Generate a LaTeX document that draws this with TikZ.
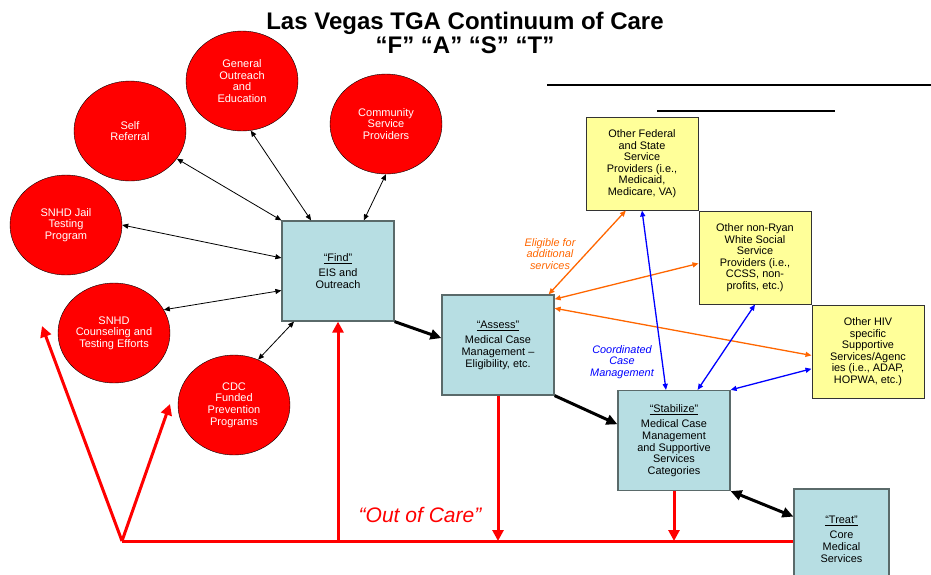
\documentclass[tikz,border=0pt]{standalone}
\usepackage{fontspec}
\setmainfont{Liberation Sans}
\usepackage{tikz}
\usetikzlibrary{shapes.geometric,arrows.meta,positioning,calc}
\definecolor{CareRed}{HTML}{FF0000}
\definecolor{StageBlue}{HTML}{B7DEE3}
\definecolor{StageEdge}{HTML}{5A6A6A}
\definecolor{AgencyYellow}{HTML}{FFFF99}
\definecolor{LinkOrange}{HTML}{FF6600}
\definecolor{LinkBlue}{HTML}{0000FF}
\tikzset{
    % red entry points round the Find step
    entrycircle/.style={
        ellipse,
        draw=black,
        fill=CareRed,
        thin,
        minimum width=112pt,
        minimum height=100pt,
        inner sep=0pt,
        align=center,
        text=white,
        font=\fontsize{11}{11.6}\selectfont
    },
    stagebox/.style={
        rectangle,
        draw=StageEdge,
        fill=StageBlue,
        line width=1.2pt,
        minimum width=112pt,
        minimum height=100pt,
        inner sep=0pt,
        align=center,
        font=\fontsize{10.9}{11.6}\selectfont
    },
    agencybox/.style={
        rectangle,
        draw=black!80,
        fill=AgencyYellow,
        line width=1pt,
        minimum width=112pt,
        minimum height=93pt,
        inner sep=0pt,
        align=center,
        font=\fontsize{10.9}{11.5}\selectfont
    },
    linkarrow/.style={
        <->,
        >={Triangle[length=6pt,width=5pt]},
        line width=0.8pt
    },
    steparrow/.style={
        ->,
        >={Triangle[length=11pt,width=10pt]},
        line width=3pt
    },
    carearrow/.style={
        ->,
        >={Triangle[length=11pt,width=11pt]},
        line width=3pt,
        color=CareRed
    }
}
\newcommand{\stagename}[1]{\underline{``#1''}\\[4pt]}

\begin{document}
\begin{tikzpicture}[
                    x=1pt, y=-1pt,
                    node distance=0pt,
                    lbl/.style={align=center, font=\fontsize{10.9}{11.6}\selectfont\itshape},
                    colourlink/.style={linkarrow, line width=1.3pt}
                ]
                    \useasboundingbox (0,0) rectangle (931,574);

                    \node[font=\fontsize{24}{24.5}\selectfont\bfseries, align=center] (title) at (465,33) {
                        Las Vegas TGA Continuum of Care\\
                        ``F'' ``A'' ``S'' ``T''
                    };
                    \draw[line width=2pt] (547,85) -- (931,85);
                    \draw[line width=2pt] (657,111) -- (835,111);

                    % entry points
                    \node[entrycircle] (outreach) at (242,81) {General\\Outreach\\and\\Education};
                    \node[entrycircle] (selfref) at (130,131) {Self\\Referral};
                    \node[entrycircle] (community) at (386,124) {Community\\Service\\Providers};
                    \node[entrycircle] (jail) at (66,225) {SNHD Jail\\Testing\\Program};
                    \node[entrycircle] (counseling) at (114,333) {SNHD\\Counseling and\\Testing Efforts};
                    \node[entrycircle] (cdc) at (234,405) {CDC\\Funded\\Prevention\\Programs};

                    % stages
                    \node[stagebox] (find) at (338,271) {
                        \stagename{Find}
                        EIS and\\Outreach
                    };
                    \node[stagebox] (assess) at (498,345) {
                        \stagename{Assess}
                        Medical Case\\Management --\\Eligibility, etc.
                    };
                    \node[stagebox] (stabilize) at (674,440.5) {
                        \stagename{Stabilize}
                        Medical Case\\Management\\and Supportive\\Services\\Categories
                    };
                    \node[stagebox, minimum width=95pt] (treat) at (841.5,539) {
                        \stagename{Treat}
                        Core\\Medical\\Services
                    };

                    % other agencies
                    \node[agencybox] (federal) at (642,163.5) {
                        Other Federal\\and State\\Service\\Providers (i.e.,\\Medicaid,\\Medicare, VA)
                    };
                    \node[agencybox, anchor=north west, at=(federal.south east)] (social) {
                        Other non-Ryan\\White Social\\Service\\Providers (i.e.,\\CCSS, non-\\profits, etc.)
                    };
                    \node[agencybox, anchor=north west, at=(social.south east)] (hiv) {
                        Other HIV\\specific\\Supportive\\Services/Agenc\\ies (i.e., ADAP,\\HOPWA, etc.)
                    };

                    % find links
                    \draw[linkarrow] (selfref) -- (find.north west);
                    \draw[linkarrow] (outreach.-80) -- (find.118);
                    \draw[linkarrow] (community.south) -- (find.63);
                    \draw[linkarrow] (jail.east) -- (find.167);
                    \draw[linkarrow] (counseling.25) -- (find.199);
                    \draw[linkarrow] (cdc.62) -- (find.229);

                    \draw[steparrow] (find.south east) -- (assess.173);
                    \draw[steparrow] (assess.south east) -- (stabilize.164);
                    \draw[steparrow, <->] (stabilize.south east) -- (treat.155);

                    % eligibility
                    \draw[colourlink, LinkOrange] (assess.45) -- (federal.251);
                    \draw[colourlink, LinkOrange] (assess.39) -- (social.186);
                    \draw[colourlink, LinkOrange] (assess.33) -- (hiv.184);
                    \node[lbl, text=LinkOrange] (eligible) at (550,254) {Eligible for\\additional\\services};

                    % case management
                    \draw[colourlink, LinkBlue] (federal.south) -- (stabilize.99);
                    \draw[colourlink, LinkBlue] (social.south) -- (stabilize.65);
                    \draw[colourlink, LinkBlue] (hiv.197) -- (stabilize.north east);
                    \node[lbl, text=LinkBlue] (coordinated) at (622,362) {Coordinated\\Case\\Management};

                    % out of care
                    \coordinate (vtip) at (122,541);
                    \coordinate (backleft) at (42,326);
                    \coordinate (backright) at (170,404);
                    \draw[carearrow, -] (vtip) -- (vtip -| treat.west);
                    \draw[carearrow] (vtip) -- (backleft);
                    \draw[carearrow] (vtip) -- (backright);
                    \draw[carearrow] (find.south |- vtip) -- (find.south);
                    \draw[carearrow] (assess.south) -- (assess.south |- vtip);
                    \draw[carearrow] (stabilize.south) -- (stabilize.south |- vtip);
                    \node[text=CareRed, font=\fontsize{21}{24}\selectfont\itshape] (outcare) at (420,515) {``Out of Care''};
                \end{tikzpicture}
\end{document}
